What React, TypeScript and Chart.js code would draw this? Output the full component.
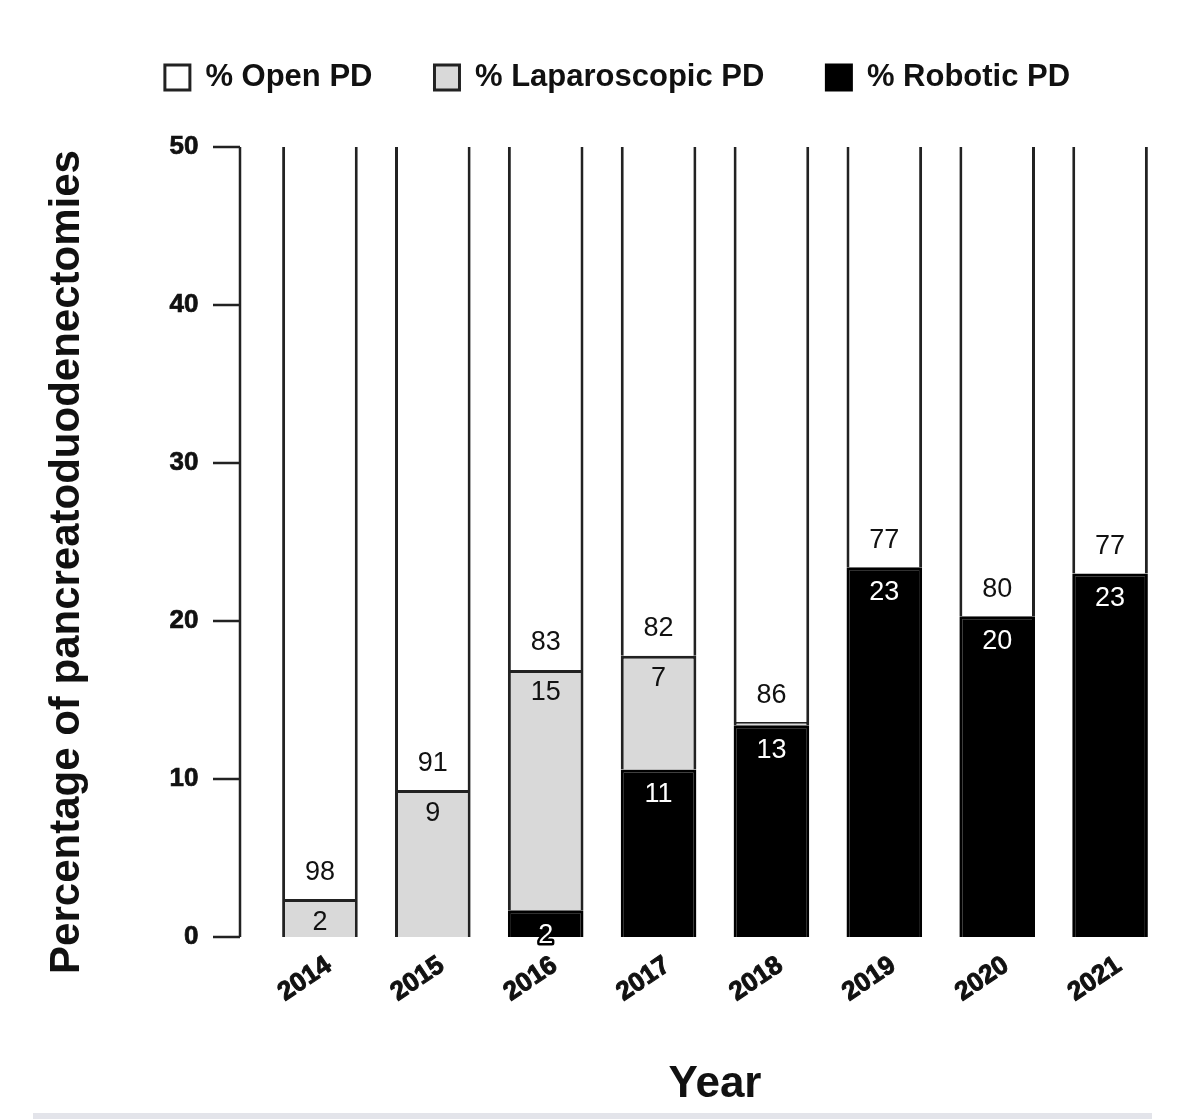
import { useEffect, useRef } from 'react';
import { Chart, registerables } from 'chart.js';

Chart.register(...registerables);

const years = ['2014', '2015', '2016', '2017', '2018', '2019', '2020', '2021'];
// segment heights, % of all PDs per year
const roboticPct = [0, 0, 1.7, 10.6, 13.4, 23.4, 20.3, 23.0];
const laparoscopicPct = [2.4, 9.3, 15.2, 7.2, 0.2, 0, 0, 0];
const openPct = [97.6, 90.7, 83.1, 82.2, 86.4, 76.6, 79.7, 77.0];
const yTicks = [0, 10, 20, 30, 40, 50];

const SANS = '"Liberation Sans", Arial, sans-serif';

// value labels: open above its base, others inside near the top
const valueLabels = {
  id: 'valueLabels',
  afterDatasetsDraw(chart: any) {
    const { ctx } = chart;
    ctx.save();
    ctx.font = `27px ${SANS}`;
    ctx.textAlign = 'center';
    ctx.textBaseline = 'middle';
    chart.data.datasets.forEach((ds: any, di: number) => {
      const meta = chart.getDatasetMeta(di);
      meta.data.forEach((bar: any, i: number) => {
        const text = String(Math.round(ds.data[i]));
        if (text === '0') return;
        const { x, y, base } = bar.getProps(['x', 'y', 'base'], true);
        if (di === 2) {
          ctx.fillStyle = '#111';
          ctx.fillText(text, x, base - 27);
        } else if (di === 0) {
          ctx.lineWidth = 5;
          ctx.lineJoin = 'round';
          ctx.strokeStyle = '#000';
          ctx.strokeText(text, x, y + 25);
          ctx.fillStyle = '#fff';
          ctx.fillText(text, x, y + 25);
        } else {
          ctx.fillStyle = '#111';
          ctx.fillText(text, x, y + 23);
        }
      });
    });
    ctx.restore();
  },
};

// detached y axis line with outward ticks, and the rotated y title
const yAxisDecor = {
  id: 'yAxisDecor',
  afterDraw(chart: any) {
    const { ctx, chartArea, scales } = chart;
    const yScale = scales.y;
    const axisX = chartArea.left - 23.5;
    ctx.save();
    ctx.strokeStyle = '#222';
    ctx.lineWidth = 2.5;
    ctx.beginPath();
    ctx.moveTo(axisX, yScale.getPixelForValue(yTicks[yTicks.length - 1]));
    ctx.lineTo(axisX, yScale.getPixelForValue(yTicks[0]));
    yTicks.forEach((v) => {
      const py = yScale.getPixelForValue(v);
      ctx.moveTo(axisX - 27, py);
      ctx.lineTo(axisX, py);
    });
    ctx.stroke();

    ctx.translate(chartArea.left - 196.5, (chartArea.top + chartArea.bottom) / 2 + 20);
    ctx.rotate(-Math.PI / 2);
    ctx.font = `bold 42px ${SANS}`;
    ctx.fillStyle = '#111';
    ctx.textAlign = 'center';
    ctx.textBaseline = 'middle';
    ctx.fillText('Percentage of pancreatoduodenectomies', 0, 0);
    ctx.restore();
  },
};

export default function App() {
  const canvasRef = useRef<HTMLCanvasElement>(null);
  const chartRef = useRef<Chart | null>(null);

  useEffect(() => {
    if (!canvasRef.current) return;
    if (chartRef.current) chartRef.current.destroy();

    Chart.defaults.font.family = SANS;
    Chart.defaults.color = '#111';

    chartRef.current = new Chart(canvasRef.current, {
      type: 'bar',
      data: {
        labels: years,
        datasets: [
          {
            label: '% Robotic PD',
            data: roboticPct,
            backgroundColor: '#000',
            borderColor: '#000',
            borderWidth: 3,
          },
          {
            label: '% Laparoscopic PD',
            data: laparoscopicPct,
            backgroundColor: '#d9d9d9',
            borderColor: '#222',
            borderWidth: 3,
          },
          {
            label: '% Open PD',
            data: openPct,
            backgroundColor: '#fff',
            borderColor: '#222',
            borderWidth: 3,
          },
        ],
      },
      options: {
        animation: false,
        responsive: true,
        maintainAspectRatio: false,
        datasets: {
          bar: { categoryPercentage: 1, barPercentage: 0.67 },
        },
        layout: { padding: { left: 68.5, right: 33.5, top: 0, bottom: 0 } },
        plugins: {
          tooltip: { enabled: false },
          legend: {
            position: 'top',
            reverse: true,
            labels: {
              boxWidth: 25,
              boxHeight: 25,
              padding: 62,
              color: '#111',
              font: { size: 31, weight: 'bold', family: SANS },
            },
          },
          title: {
            display: true,
            text: '',
            weight: 500,
            font: { size: 10 },
            padding: { top: 0, bottom: 32 },
          },
        },
        scales: {
          x: {
            stacked: true,
            grid: { display: false, drawTicks: false },
            border: { display: false },
            ticks: {
              minRotation: 34,
              maxRotation: 34,
              padding: 13,
              labelOffset: 9,
              color: '#111',
              textStrokeColor: '#111',
              textStrokeWidth: 1,
              font: { size: 26, weight: 'bold', family: SANS },
            },
            title: {
              display: true,
              text: 'Year',
              color: '#111',
              font: { size: 44, weight: 'bold', family: SANS },
              padding: { top: 0, bottom: 8 },
            },
            afterFit: (scale: any) => {
              scale.height = 182;
            },
          },
          y: {
            stacked: true,
            min: 0,
            max: 50,
            grid: { display: false, drawTicks: false },
            border: { display: false },
            afterBuildTicks: (scale: any) => {
              scale.ticks = yTicks.map((v) => ({ value: v }));
            },
            ticks: {
              padding: 65,
              color: '#111',
              textStrokeColor: '#111',
              textStrokeWidth: 0.7,
              font: { size: 26, weight: 'bold', family: SANS },
            },
            afterFit: (scale: any) => {
              scale.width = 195;
            },
          },
        },
      },
      plugins: [valueLabels, yAxisDecor],
    } as any);

    return () => {
      if (chartRef.current) {
        chartRef.current.destroy();
        chartRef.current = null;
      }
    };
  }, []);

  return (
    <div style={{ position: 'absolute', left: 0, top: 0, width: 1200, height: 1119, background: '#fff' }}>
      <canvas ref={canvasRef} />
      <div
        style={{
          position: 'absolute',
          left: 33,
          top: 1113,
          width: 1119,
          height: 6,
          background: '#e3e4ea',
        }}
      />
    </div>
  );
}
